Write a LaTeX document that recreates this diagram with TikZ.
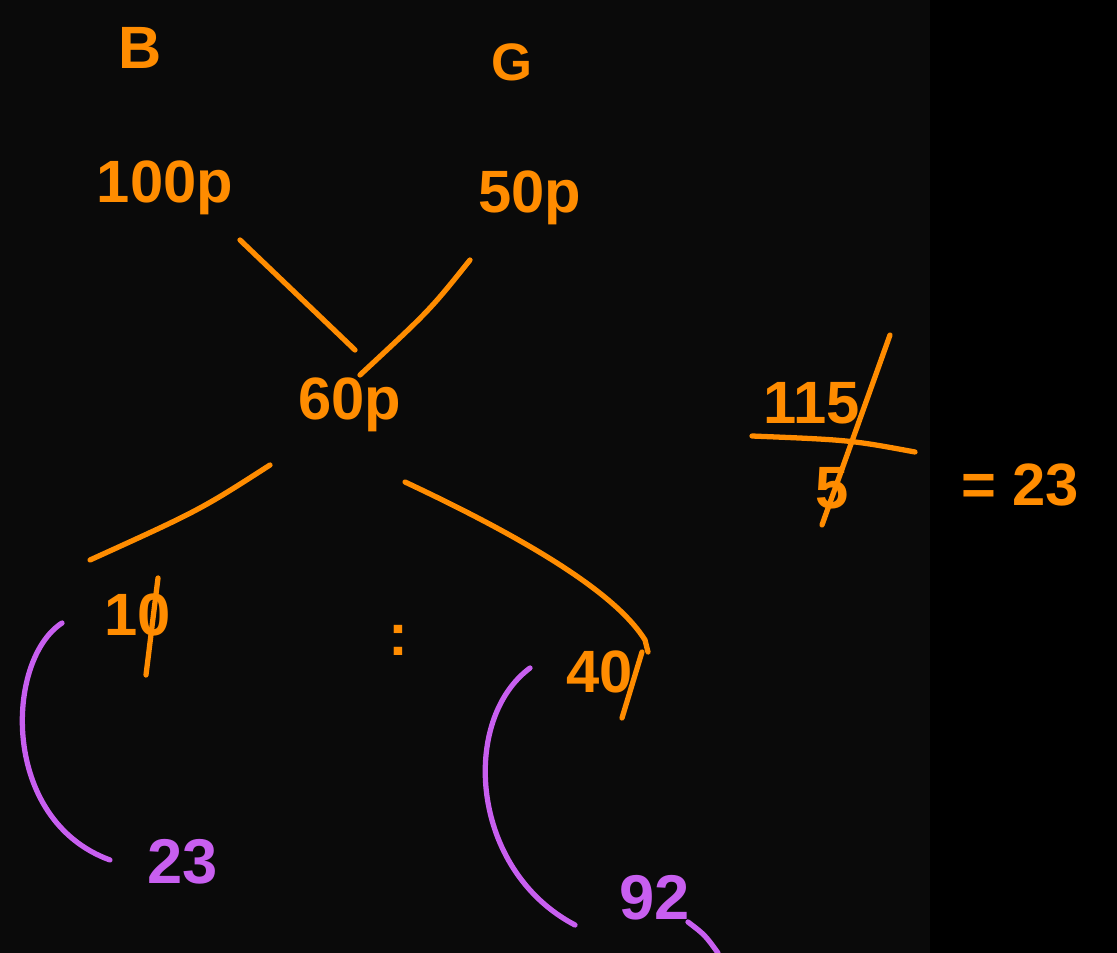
\documentclass[tikz,border=0pt]{standalone}
\usepackage{fontspec}
\setmainfont{Liberation Sans}
\begin{document}
\begin{tikzpicture}[x=0.02cm,y=-0.02cm,
  ink/.style={draw=inkor,line width=3pt,line cap=round},
  pink/.style={draw=inkpu,line width=3pt,line cap=round},
  lab/.style={text=inkor,font=\fontsize{34}{38}\selectfont\bfseries,inner sep=0pt},
  plab/.style={text=inkpu,font=\fontsize{36}{40}\selectfont\bfseries,inner sep=0pt}]
\definecolor{inkor}{RGB}{255,140,0}
\definecolor{inkpu}{RGB}{200,95,240}
\definecolor{bg}{RGB}{10,10,10}
\fill[bg] (0,0) rectangle (1117,953);
\fill[black] (930,0) rectangle (1117,953);
\useasboundingbox (0,0) rectangle (1117,953);
% headers
\node[lab] (B) at (140,48) {B};
\node[lab,font=\fontsize{30}{34}\selectfont\bfseries] (G) at (512,62) {G};
% numbers
\node[lab] (n100) at (165,188) {100p};
\node[lab] (n50) at (530,198) {50p};
\node[lab] (n60) at (350,405) {60p};
\node[lab] (n10) at (138,615) {10};
\node[lab] (n40) at (600,672) {40};
\node[lab] (dots) at (398,640) {:};
% connectors
\coordinate (a1) at (240,240); \coordinate (a2) at (355,350);
\coordinate (b1) at (470,260); \coordinate (b2) at (360,375);
\coordinate (c1) at (270,465); \coordinate (c2) at (90,560);
\coordinate (d1) at (405,482); \coordinate (d2) at (645,640);
\draw[ink] (a1) -- (a2);
\draw[ink] (b1) .. controls (430,310) .. (b2);
\draw[ink] (c1) .. controls (200,510) .. (c2);
\draw[ink] (d1) .. controls (550,550) and (620,600) .. (d2) -- (648,652);
% strikes through zeros
\draw[ink] ([shift={(20,-37)}]n10.center) -- ([shift={(8,60)}]n10.center);
\draw[ink] ([shift={(42,-20)}]n40.center) -- ([shift={(22,46)}]n40.center);
% purple brackets and results
\coordinate (p1) at (62,623); \coordinate (p2) at (110,860);
\coordinate (q1) at (530,668); \coordinate (q2) at (575,925);
\draw[pink] (p1) .. controls (5,660) and (0,820) .. (p2);
\draw[pink] (q1) .. controls (460,720) and (470,870) .. (q2);
\node[plab] (r23) at (183,862) {23};
\node[plab] (r92) at (655,898) {92};
\coordinate (t1) at (688,922);
\draw[pink] (t1) .. controls (705,935) .. (718,953);
% fraction
\node[lab] (num) at (812,403) {115};
\node[lab] (den) at (832,488) {5};
\coordinate (f1) at (752,436); \coordinate (f2) at (915,452);
\draw[ink] (f1) .. controls (850,440) .. (f2);
\coordinate (s1) at (890,335); \coordinate (s2) at (822,525);
\draw[ink] (s1) -- (s2);
\node[lab] (eq) at (1020,485) {= 23};
\end{tikzpicture}
\end{document}
